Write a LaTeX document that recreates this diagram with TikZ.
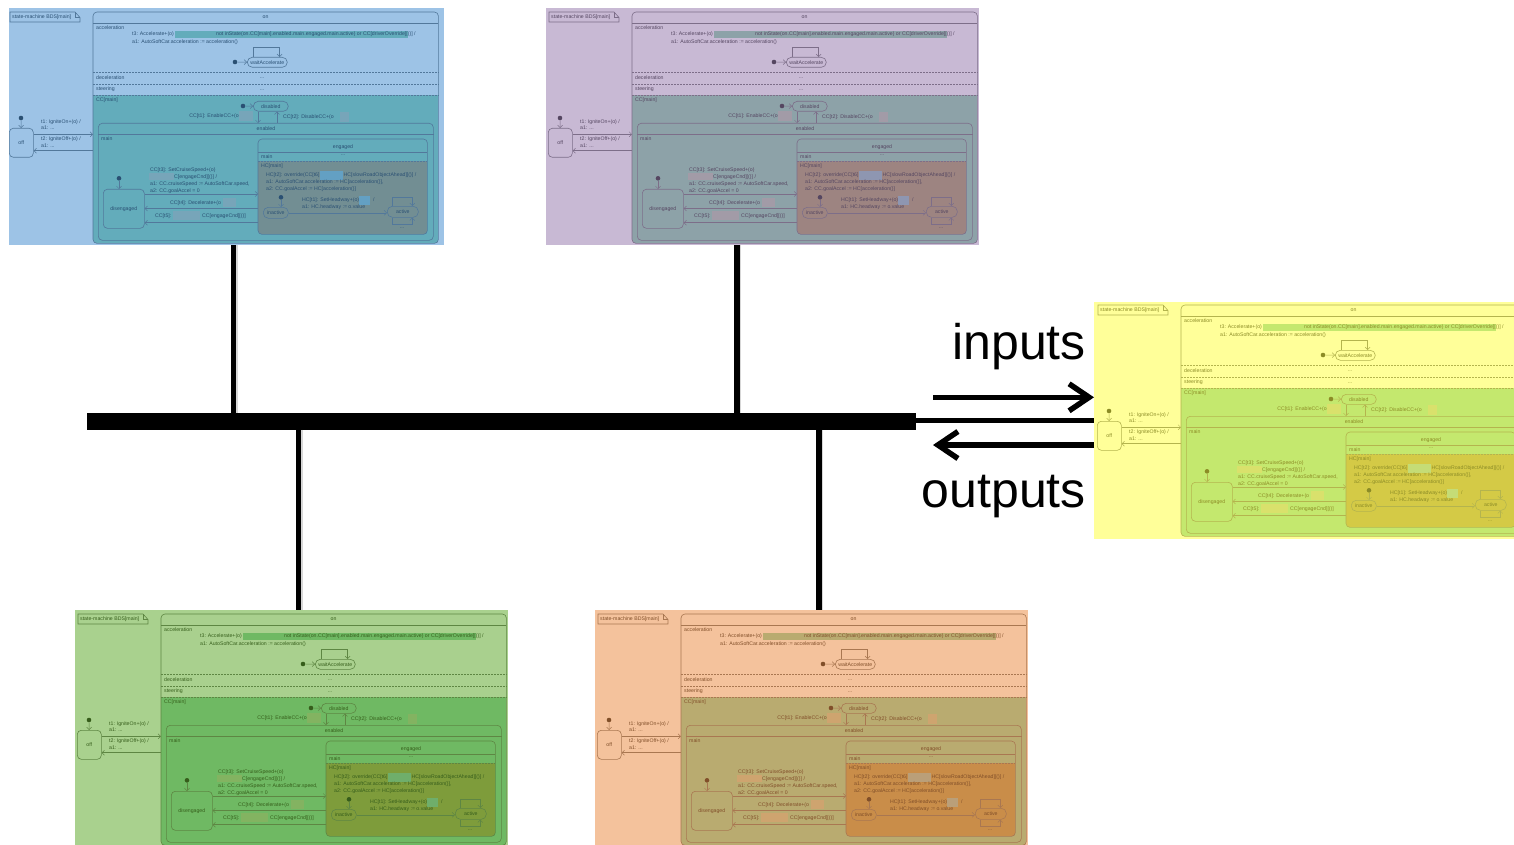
\documentclass[tikz,border=0pt]{standalone}
\usepackage{fontspec}
\setmainfont{Liberation Sans}
\usetikzlibrary{arrows.meta}

% base colours of the state machine, before tinting
\definecolor{ccbase}{RGB}{126,204,159}
\definecolor{hcbase}{RGB}{161,139,72}
\definecolor{hlcc}{RGB}{172,190,155}
\definecolor{hlhc}{RGB}{127,178,178}
% tints laid over each copy
\definecolor{tintblue}{RGB}{77,146,210}
\definecolor{tintlav}{RGB}{155,128,177}
\definecolor{tintyel}{RGB}{255,255,70}
\definecolor{tintgrn}{RGB}{99,171,50}
\definecolor{tintorg}{RGB}{235,144,75}

\newcommand\tf{\fontsize{5.2}{5.6}\selectfont}

\tikzset{
  fr/.style={draw=black!65, line width=0.6pt},
  dsh/.style={dash pattern=on 2pt off 1pt},
  st/.style={fr, rounded corners=4pt, inner sep=0pt, font=\tf},
  pill/.style={st, rounded corners=5pt},
  tx/.style={font=\tf, inner sep=0pt, anchor=west, text=black},
  ctx/.style={font=\tf, inner sep=0pt, text=black},
  dot/.style={circle, fill=black, inner sep=0pt, minimum size=4.6pt},
  tr/.style={draw=black!65, line width=0.5pt, -{Straight Barb[length=2.5pt,width=5pt]}},
  busline/.style={line width=5.5pt, draw=black},
  shade/.style={line width=5.5pt, draw=black!35, opacity=0.45},
  bigarrow/.style={line width=5.5pt, draw=black, -{Straight Barb[length=20pt,width=27pt]}},
  tintbox/.style={inner sep=0pt, outer sep=0pt, anchor=north west, minimum height=237pt, fill opacity=0.55},
}

\newcount\txno
\newcommand\smtext[3][]{\global\advance\txno by 1 \node[tx,#1] (tx\the\txno) at (#2) {#3};}
\newcommand\ctext[2]{\global\advance\txno by 1 \node[ctx] (tx\the\txno) at (#1) {#2};}
\newcommand\rnode[7]{\node[#6, anchor=north west, minimum width={(#4)-(#2)}, minimum height={(#5)-(#3)}] (#1) at (#2,#3) {#7};}

% one copy of the state machine BDS[main]
\newcommand\statemachine{%
  % frame label with folded corner
  \smtext{12,17}{state-machine BDS[main]}
  \draw[fr] (10,12) -- (75,12) -- (80,17.5) -- (80,22) -- (10,22) -- cycle;
  \draw[fr] (75,12) -- (75,17.5) -- (80,17.5);
  % state "on" and its regions
  \rnode{on}{93}{12}{438}{243}{inner sep=0pt, fill=white}{}
  \begin{scope}
    \clip[rounded corners=4pt] (on.north west) rectangle (on.south east);
    \fill[ccbase] (on.west |- 0,95) rectangle (on.south east);
  \end{scope}
  \draw[fr, rounded corners=4pt] (on.north west) rectangle (on.south east);
  \draw[fr] (on.west |- 0,23) -- (on.east |- 0,23);
  \foreach \yy in {72,84,95} \draw[fr,dsh] (on.west |- 0,\yy) -- (on.east |- 0,\yy);
  \ctext{265.5,17.5}{on}
  \smtext{96,28}{acceleration}
  \smtext{96,77.5}{deceleration}
  \ctext{262,78}{...}
  \smtext{96,89.5}{steering}
  \ctext{262,90}{...}
  \smtext{96,100.5}{CC[main]}
  % acceleration region
  \fill[ccbase] (175,31) rectangle (408,38);
  \smtext{132,34.5}{t3: Accelerate+(o)}
  \smtext{216,34.5}{not inState(on.CC[main].enabled.main.engaged.main.active) or CC[driverOverride][()] /}
  \smtext{132,42.5}{a1: AutoSoftCar.acceleration := acceleration()}
  \node[dot] (i0) at (235,62) {};
  \rnode{wa}{247}{57}{287}{67}{pill}{waitAccelerate}
  \draw[tr] (i0) -- (wa);
  \draw[tr] ([xshift=6pt]wa.north west) -- ++(0,-10) -| ([xshift=-8pt]wa.north east);
  % CC region
  \node[dot] (i1) at (243,106) {};
  \rnode{dis}{253}{101}{288}{111}{pill}{disabled}
  \draw[tr] (i1) -- (dis);
  \rnode{en}{98}{123}{433}{240}{st}{}
  \draw[fr] (en.west |- 0,134) -- (en.east |- 0,134);
  \ctext{266,129}{enabled}
  \smtext{101,139}{main}
  \draw[tr] (dis.south -| 258,0) -- (en.north -| 258,0);
  \draw[tr] (en.north -| 277,0) -- (dis.south -| 277,0);
  \smtext[anchor=east]{239,116.5}{CC[t1]: EnableCC+(o}
  \fill[hlcc] (239,111) rectangle (253,121);
  \smtext{283,117}{CC[t2]: DisableCC+(o}
  \fill[hlcc] (340,112) rectangle (349,122);
  % engaged, with its HC region
  \rnode{eg}{258}{139}{427}{234}{inner sep=0pt}{}
  \begin{scope}
    \clip[rounded corners=4pt] (eg.north west) rectangle (eg.south east);
    \fill[hcbase] (eg.west |- 0,161) rectangle (eg.south east);
  \end{scope}
  \draw[fr, rounded corners=4pt] (eg.north west) rectangle (eg.south east);
  \draw[fr] (eg.west |- 0,152) -- (eg.east |- 0,152);
  \draw[fr,dsh] (eg.west |- 0,161) -- (eg.east |- 0,161);
  \ctext{343,146.7}{engaged}
  \smtext{261,157}{main}
  \ctext{343,155.5}{...}
  \smtext{261,166}{HC[main]}
  % off
  \node[dot] (i2) at (21,118) {};
  \rnode{off}{9}{128}{33}{157}{st}{off}
  \draw[tr] (i2) -- (off);
  \draw[tr] (off.east |- 0,134.3) -- (on.west |- 0,134.3);
  \draw[tr] (on.west |- 0,150.7) -- (off.east |- 0,150.7);
  \smtext{41,121.7}{t1: IgniteOn+(o) /}
  \smtext{41,128.2}{a1: ...}
  \smtext{41,138.7}{t2: IgniteOff+(o) /}
  \smtext{41,146.2}{a1: ...}
  % disengaged
  \node[dot] (i3) at (119,178.3) {};
  \rnode{dg}{103}{189}{144}{228}{st}{disengaged}
  \draw[tr] (i3) -- (dg.north -| i3);
  \draw[tr] (dg.east |- 0,194) -- (eg.west |- 0,194);
  \draw[tr] (eg.west |- 0,208.5) -- (dg.east |- 0,208.5);
  \draw[tr] (eg.west |- 0,222.7) -- (dg.east |- 0,222.7);
  \smtext{150,170.3}{CC[t3]: SetCruiseSpeed+(o)}
  \smtext{174,176.7}{C[engageCnd][()] /}
  \fill[hlcc] (149,173.3) rectangle (173.5,180);
  \smtext{150,184}{a1: CC.cruiseSpeed := AutoSoftCar.speed,}
  \smtext{150,191}{a2: CC.goalAccel = 0}
  \smtext{170,202.7}{CC[t4]: Decelerate+(o}
  \fill[hlcc] (222.7,198.3) rectangle (236,207.3);
  \smtext{155,216}{CC[t5]: ,}
  \fill[hlcc] (173,211) rectangle (199.5,220);
  \smtext{202,216}{CC[engageCnd][()]}
  % HC region
  \smtext{266,175.3}{HC[t2]: override(CC[t6]}
  \fill[hlhc] (320,171) rectangle (343,180);
  \smtext{343.5,175.3}{HC[slowRoadObjectAhead][()] /}
  \smtext{266,182.3}{a1: AutoSoftCar.acceleration := HC[acceleration()],}
  \smtext{266,189.3}{a2: CC.goalAccel := HC[acceleration()]}
  \node[dot] (i4) at (281,197.3) {};
  \rnode{ia}{263}{207}{288}{218}{pill}{inactive}
  \draw[tr] (i4) -- (ia.north -| i4);
  \smtext{302,200}{HC[t1]: SetHeadway+(o)}
  \fill[hlhc] (359,196) rectangle (370,205);
  \smtext{373,200}{/}
  \smtext{302,207}{a1: HC.headway := o.value}
  \rnode{ac}{387}{206}{418}{217}{pill}{active}
  \draw[tr] (ia.east) -- (ac.west |- ia.east);
  \draw[tr] ([xshift=5pt]ac.north west) -- ++(0,-8.7) -| ([xshift=-6.3pt]ac.north east);
  \draw[tr] ([xshift=5pt]ac.south west) -- ++(0,6.3) -| ([xshift=-6.3pt]ac.south east);
  \ctext{402,228}{...}
}
\newcommand\smcopy[2]{\begin{scope}[shift={#2}, name prefix=#1-]\statemachine\end{scope}}
\newcommand\tint[5]{\node[tintbox, minimum width=#4pt, fill=#5] (#1) at (#2,#3) {};}

\begin{document}
\begin{tikzpicture}[x=1pt,y=-1pt]
\useasboundingbox (0,0) rectangle (1514,845);
\clip (0,0) rectangle (1514,845);

% five tinted copies of the state machine
\smcopy{tl}{(0,0)}      \tint{tl-bg}{9}{8}{435}{tintblue}
\smcopy{tr}{(539,0)}    \tint{tr-bg}{546}{8}{433}{tintlav}
\smcopy{yl}{(1088,293)} \tint{yl-bg}{1094}{302}{433}{tintyel}
\smcopy{gr}{(68,602)}   \tint{gr-bg}{75}{610}{433}{tintgrn}
\smcopy{or}{(588,602)}  \tint{or-bg}{595}{610}{433}{tintorg}

% the bus and its taps
\node[fill=black, inner sep=0pt, outer sep=0pt, anchor=north west,
      minimum width=829pt, minimum height=16.5pt] (bus) at (87,413.3) {};
\coordinate (j1) at (233.3,0);
\coordinate (j2) at (737,0);
\coordinate (j3) at (298.3,0);
\coordinate (j4) at (819,0);
\draw[shade] ([xshift=1.5pt]tl-bg.south -| j1) -- ([xshift=1.5pt]bus.north -| j1);
\draw[shade] ([xshift=1.5pt]tr-bg.south -| j2) -- ([xshift=1.5pt]bus.north -| j2);
\draw[shade] ([xshift=1.5pt]bus.south -| j3) -- ([xshift=1.5pt]gr-bg.north -| j3);
\draw[shade] ([xshift=1.5pt]bus.south -| j4) -- ([xshift=1.5pt]or-bg.north -| j4);
\draw[busline] (tl-bg.south -| j1) -- (bus.north -| j1);
\draw[busline] (tr-bg.south -| j2) -- (bus.north -| j2);
\draw[busline] (bus.south -| j3) -- (gr-bg.north -| j3);
\draw[busline] (bus.south -| j4) -- (or-bg.north -| j4);
\draw[busline] (bus.east |- 0,420.3) -- (yl-bg.west |- 0,420.3);

% inputs and outputs of the right-hand copy
\coordinate (intail) at (933,397.3);
\coordinate (outtip) at (933,445);
\draw[bigarrow] (intail) -- (intail -| yl-bg.west);
\draw[bigarrow] (outtip -| yl-bg.west) -- (outtip);
\node[font=\fontsize{50}{60}\selectfont, anchor=base east, inner sep=0pt] (inputs) at (1086,359.3) {inputs};
\node[font=\fontsize{50}{60}\selectfont, anchor=base east, inner sep=0pt] (outputs) at (1086,507.3) {outputs};
\end{tikzpicture}
\end{document}
